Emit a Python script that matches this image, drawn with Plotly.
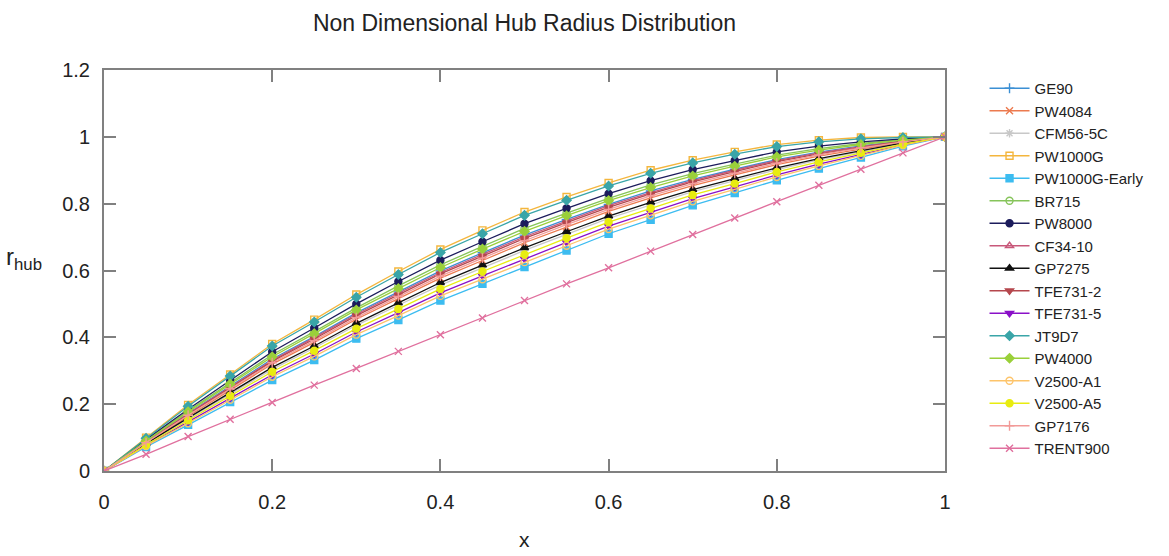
import plotly.graph_objects as go

x = [0, 0.05, 0.1, 0.15, 0.2, 0.25, 0.3, 0.35, 0.4, 0.45, 0.5, 0.55, 0.6, 0.65, 0.7, 0.75, 0.8, 0.85, 0.9, 0.95, 1]

GE90 = [0, .088, .173, .254, .335, .402, .473, .536, .599, .653, .706, .753, .798, .838, .873, .903, .932, .954, .973, .988, 1]
PW4084 = [0, .084, .164, .243, .320, .385, .454, .516, .577, .630, .683, .730, .777, .817, .854, .886, .917, .942, .964, .984, 1]
CFM56_5C = [0, .080, .156, .231, .304, .368, .436, .496, .556, .608, .660, .708, .756, .796, .836, .869, .902, .931, .956, .980, 1]
PW1000G = [0, .100, .198, .289, .380, .453, .528, .597, .663, .720, .775, .820, .862, .900, .930, .955, .977, .990, .998, 1.0, 1]
PW1000G_Early = [0, .072, .138, .206, .272, .332, .396, .452, .510, .560, .610, .660, .710, .752, .795, .832, .870, .905, .938, .972, 1]
BR715 = [0, .092, .180, .264, .348, .417, .488, .554, .617, .672, .726, .772, .816, .856, .890, .918, .945, .965, .980, .992, 1]
PW8000 = [0, .094, .185, .272, .357, .428, .500, .567, .631, .686, .740, .786, .830, .869, .902, .929, .955, .972, .985, .994, 1]
CF34_10 = [0, .087, .171, .252, .331, .399, .469, .532, .594, .648, .701, .748, .794, .833, .869, .900, .929, .952, .971, .987, 1]
GP7275 = [0, .082, .159, .235, .310, .374, .442, .503, .564, .616, .668, .716, .763, .804, .842, .875, .907, .935, .959, .982, 1]
TFE731_2 = [0, .087, .169, .249, .328, .395, .465, .527, .590, .643, .696, .743, .789, .829, .865, .896, .926, .949, .969, .987, 1]
TFE731_5 = [0, .076, .147, .218, .288, .350, .416, .474, .533, .584, .635, .684, .733, .774, .815, .850, .886, .918, .947, .976, 1]
JT9D7 = [0, .098, .194, .284, .374, .446, .520, .588, .654, .710, .765, .810, .853, .891, .922, .948, .971, .985, .994, .998, 1]
PW4000 = [0, .090, .177, .260, .342, .411, .482, .546, .609, .664, .717, .764, .809, .848, .883, .912, .940, .960, .977, .990, 1]
V2500_A1 = [0, .075, .143, .213, .282, .343, .408, .465, .524, .574, .625, .674, .724, .765, .807, .843, .880, .913, .943, .975, 1]
V2500_A5 = [0, .078, .152, .225, .297, .360, .426, .485, .545, .597, .648, .697, .745, .786, .826, .860, .895, .925, .952, .978, 1]
GP7176 = [0, .085, .167, .246, .324, .390, .459, .522, .583, .637, .689, .737, .783, .823, .860, .891, .921, .946, .967, .985, 1]
TRENT900 = [0, .050, .103, .155, .205, .257, .307, .358, .408, .458, .510, .560, .608, .658, .708, .757, .806, .855, .903, .952, 1]

series = [
    ("GE90", GE90, "#3b8fd4", "cross-thin-open"),
    ("PW4084", PW4084, "#ec7a4f", "x-thin-open"),
    ("CFM56-5C", CFM56_5C, "#c8c8c8", "asterisk-open"),
    ("PW1000G", PW1000G, "#f4b63d", "square-open"),
    ("PW1000G-Early", PW1000G_Early, "#3cbcf0", "square"),
    ("BR715", BR715, "#86c45a", "circle-open"),
    ("PW8000", PW8000, "#1c1c5c", "circle"),
    ("CF34-10", CF34_10, "#c8587a", "triangle-up-open"),
    ("GP7275", GP7275, "#111111", "triangle-up"),
    ("TFE731-2", TFE731_2, "#b5474d", "triangle-down"),
    ("TFE731-5", TFE731_5, "#8a10c8", "triangle-down"),
    ("JT9D7", JT9D7, "#3aa5a8", "diamond"),
    ("PW4000", PW4000, "#9ad03a", "diamond"),
    ("V2500-A1", V2500_A1, "#fdc46a", "circle-open"),
    ("V2500-A5", V2500_A5, "#e8ec10", "circle"),
    ("GP7176", GP7176, "#f29a98", "cross-thin-open"),
    ("TRENT900", TRENT900, "#e0709e", "x-thin-open"),
]

FONT = "Liberation Sans Narrow, Liberation Sans, sans-serif"
TXT = "#222222"

fig = go.Figure()
for name, ys, color, sym in series:
    fig.add_trace(go.Scatter(
        x=x, y=ys, name=name, mode="lines+markers",
        line=dict(color=color, width=1.3),
        marker=dict(symbol=sym, size=7, color=color, line=dict(color=color, width=1.4)),
    ))

axis_common = dict(
    showline=True, linecolor="#808080", linewidth=2, mirror="ticks",
    ticks="inside", ticklen=12, tickwidth=2, tickcolor="#808080",
    showgrid=False, zeroline=False, dtick=0.2,
    tickfont=dict(family=FONT, size=20, color=TXT),
)

fig.update_layout(
    width=1169, height=556,
    paper_bgcolor="white", plot_bgcolor="white",
    margin=dict(l=104, r=224, t=70, b=85),
    title=dict(text="Non Dimensional Hub Radius Distribution", x=(104 + 945) / 2 / 1169, xanchor="center",
               y=1 - 23 / 556, yanchor="middle", font=dict(family=FONT, size=23, color=TXT)),
    xaxis=dict(range=[0, 1], ticklabelstandoff=12, **axis_common),
    yaxis=dict(range=[0, 1.2], ticklabelstandoff=8, **axis_common),
    showlegend=True,
    legend=dict(x=1.047, xanchor="left", y=0.995, yanchor="top", font=dict(family=FONT, size=15, color=TXT),
                bgcolor="rgba(0,0,0,0)", itemwidth=40, tracegroupgap=0),
    annotations=[
        dict(text="x", xref="paper", yref="paper", x=0.5, y=-0.172, xanchor="center",
             yanchor="middle", showarrow=False, font=dict(family=FONT, size=21, color=TXT)),
        dict(text="r<sub>hub</sub>", xref="paper", yref="paper", x=-0.095, y=0.53, xanchor="center",
             yanchor="middle", showarrow=False, font=dict(family=FONT, size=24, color=TXT)),
    ],
)

fig.write_html("out.html", config={"displayModeBar": False},
               post_script="document.body.style.margin='0';document.body.style.overflow='hidden';")
